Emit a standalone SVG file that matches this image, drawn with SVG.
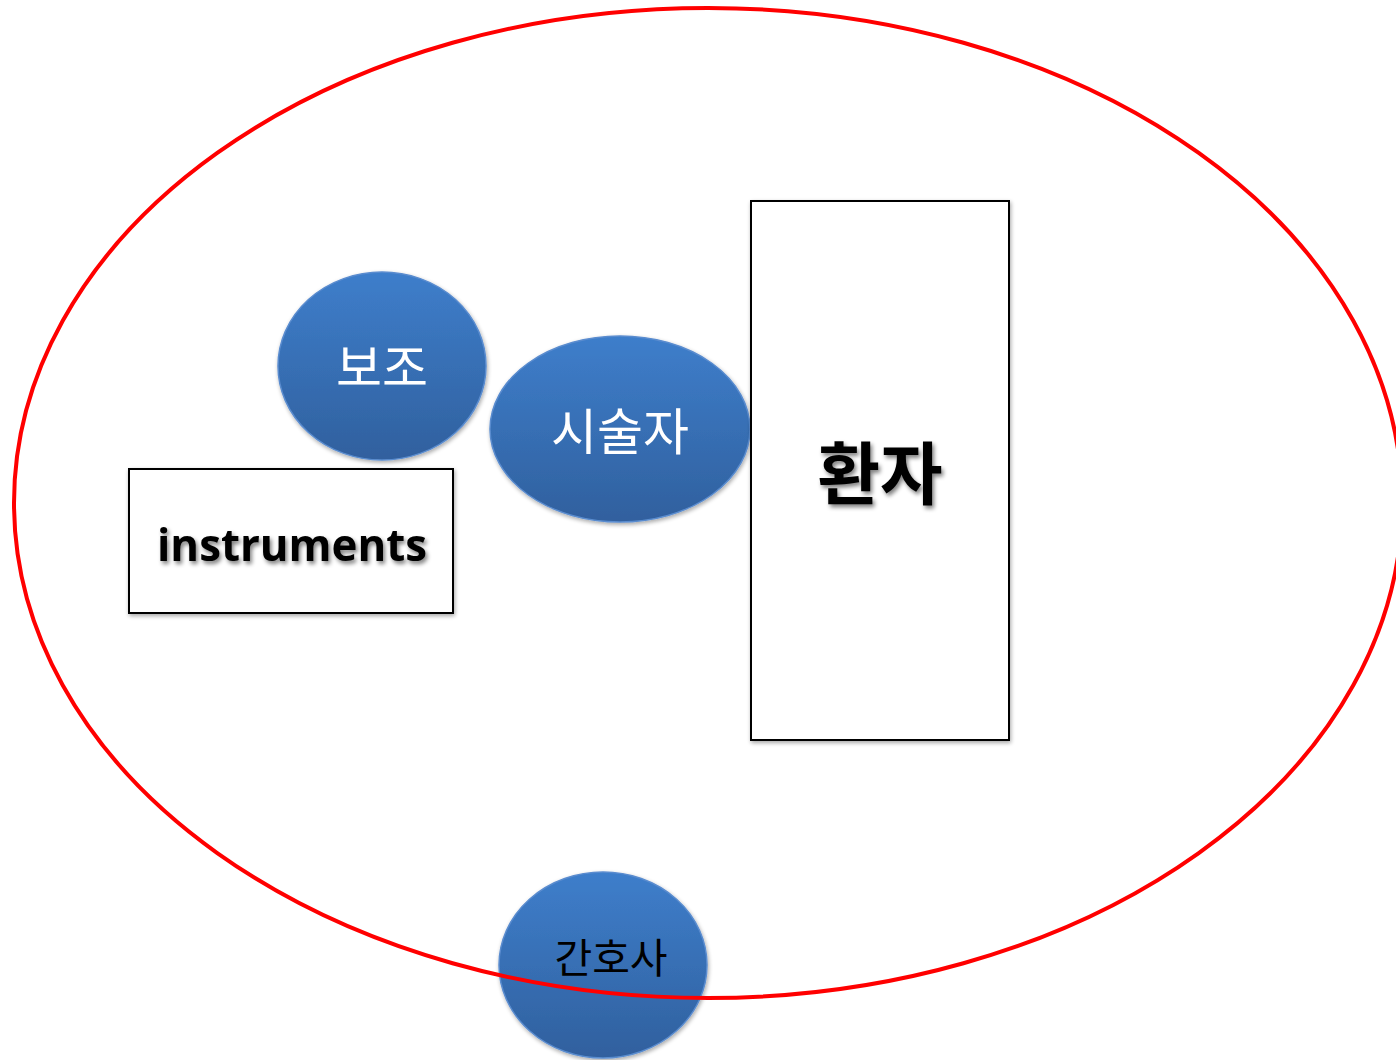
<svg xmlns="http://www.w3.org/2000/svg" width="1396" height="1060" viewBox="0 0 1396 1060">
<defs>
<linearGradient id="blue" x1="0" y1="0" x2="0" y2="1">
<stop offset="0" stop-color="#3e7ecb"/>
<stop offset="1" stop-color="#30609e"/>
</linearGradient>
<filter id="ts" x="-10%" y="-10%" width="130%" height="140%">
<feGaussianBlur in="SourceAlpha" stdDeviation="2"/>
<feOffset dx="2" dy="3" result="b"/>
<feComponentTransfer><feFuncA type="linear" slope="0.5"/></feComponentTransfer>
<feMerge><feMergeNode/><feMergeNode in="SourceGraphic"/></feMerge>
</filter>
<filter id="bs" x="-5%" y="-5%" width="115%" height="115%">
<feGaussianBlur in="SourceAlpha" stdDeviation="2"/>
<feOffset dx="1" dy="2"/>
<feComponentTransfer><feFuncA type="linear" slope="0.35"/></feComponentTransfer>
<feMerge><feMergeNode/><feMergeNode in="SourceGraphic"/></feMerge>
</filter>
</defs>
<style>
.blob{fill:url(#blue);stroke:#5a8ccf;stroke-width:1.5;filter:url(#bs)}
.box{fill:#fff;stroke:#000;stroke-width:2;filter:url(#bs)}
.kw{font-family:"Noto Sans CJK KR","Noto Sans",sans-serif;text-anchor:middle;dominant-baseline:central}
</style>
<g id="nurse">
<ellipse class="blob" cx="603" cy="965" rx="104" ry="93"/>
<text class="kw" x="611" y="955" font-size="41" fill="#000">간호사</text>
</g>
<g id="connectors">
<ellipse cx="708" cy="503" rx="694" ry="495" fill="none" stroke="#ff0000" stroke-width="4"/>
</g>
<g id="assistant">
<ellipse class="blob" cx="382" cy="366" rx="104" ry="94"/>
<text class="kw" x="382" y="364" font-size="50" fill="#fff">보조</text>
</g>
<g id="operator">
<ellipse class="blob" cx="620" cy="429" rx="130" ry="93"/>
<text class="kw" x="620" y="428" font-size="50" fill="#fff">시술자</text>
</g>
<g id="instruments">
<rect class="box" x="129" y="469" width="324" height="144"/>
<text x="292" y="544" font-family="'Open Sans','Noto Sans',sans-serif" font-weight="bold" font-size="44" text-anchor="middle" dominant-baseline="central" textLength="270" lengthAdjust="spacingAndGlyphs" filter="url(#ts)">instruments</text>
</g>
<g id="patient">
<rect class="box" x="751" y="201" width="258" height="539"/>
<text class="kw" x="880" y="469" font-size="68" font-weight="bold" fill="#000" filter="url(#ts)">환자</text>
</g>
</svg>
